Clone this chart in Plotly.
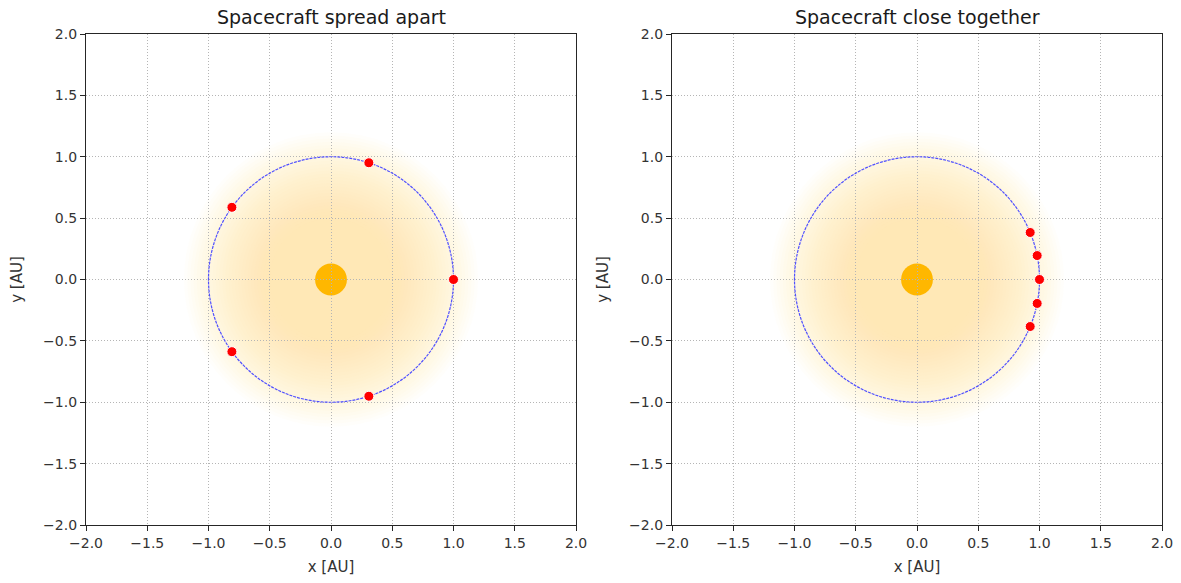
import plotly.graph_objects as go
import numpy as np

# ---- data ----
titles = ["Spacecraft spread apart", "Spacecraft close together"]
spread_x = [1.0, 0.309, -0.809, -0.809, 0.309]
spread_y = [0.0, 0.951, 0.588, -0.588, -0.951]
close_x = [1.0, 0.981, 0.924, 0.981, 0.924]
close_y = [0.0, 0.195, 0.383, -0.195, -0.383]
tick_vals = [-2.0, -1.5, -1.0, -0.5, 0.0, 0.5, 1.0, 1.5, 2.0]
orbit_radius = 1.0
sun_radius = 0.13
glow_inner = 0.5
glow_outer = 1.2
glow_layers = 28

W, H = 1181, 583
x_domains = [[86 / W, 576 / W], [672 / W, 1162 / W]]
y_domain = [(H - 525) / H, (H - 34) / H]

fig = go.Figure()
shapes = []
annotations = []
series = [(spread_x, spread_y), (close_x, close_y)]

for i in range(2):
    xa = "x" if i == 0 else "x2"
    ya = "y" if i == 0 else "y2"
    # glow layers
    radii = np.linspace(glow_outer, glow_inner, glow_layers)
    for r in radii:
        shapes.append(dict(type="circle", xref=xa, yref=ya, x0=-r, x1=r, y0=-r, y1=r,
                           fillcolor="rgba(254,234,165,0.045)", line=dict(width=0),
                           layer="below"))
    # sun
    shapes.append(dict(type="circle", xref=xa, yref=ya, x0=-sun_radius, x1=sun_radius,
                       y0=-sun_radius, y1=sun_radius, fillcolor="#FFB700",
                       line=dict(width=0), layer="below"))
    # orbit
    shapes.append(dict(type="circle", xref=xa, yref=ya, x0=-orbit_radius, x1=orbit_radius,
                       y0=-orbit_radius, y1=orbit_radius,
                       line=dict(color="#5050FF", width=1.2, dash="3px,1px"),
                       layer="between"))
    sx, sy = series[i]
    fig.add_trace(go.Scatter(x=sx, y=sy, mode="markers", xaxis=xa, yaxis=ya,
                             marker=dict(color="#FF0000", size=10,
                                         line=dict(color="white", width=1)),
                             showlegend=False, hoverinfo="skip"))
    annotations.append(dict(text=titles[i], xref=f"{xa} domain", yref="paper",
                            x=0.5, y=(H - 17) / H, xanchor="center", yanchor="middle",
                            showarrow=False, font=dict(size=19, color="#1a1a1a")))

axis_common = dict(range=[-2, 2], tickvals=tick_vals, tickformat=".1f",
                   showgrid=True, gridcolor="#b5b5b5", griddash="1px,2px", gridwidth=1,
                   showline=True, linecolor="#262626", linewidth=1.2, mirror=True,
                   ticks="outside", ticklen=5, tickcolor="#262626",
                   zeroline=False, tickfont=dict(size=14, color="#333333"),
                   fixedrange=True, automargin=False)

layout = dict(
    width=W, height=H, margin=dict(l=0, r=0, t=0, b=0),
    paper_bgcolor="white", plot_bgcolor="white",
    font=dict(family="DejaVu Sans", color="#333333"),
    shapes=shapes, annotations=annotations,
)
for i in range(2):
    sfx = "" if i == 0 else "2"
    layout["xaxis" + sfx] = dict(axis_common, domain=x_domains[i], anchor="y" + sfx,
                                 title=dict(text="x [AU]", font=dict(size=15), standoff=11))
    layout["yaxis" + sfx] = dict(axis_common, domain=y_domain, anchor="x" + sfx,
                                 title=dict(text="y [AU]", font=dict(size=15), standoff=16))

fig.update_layout(**layout)
fig.write_html("out.html")
